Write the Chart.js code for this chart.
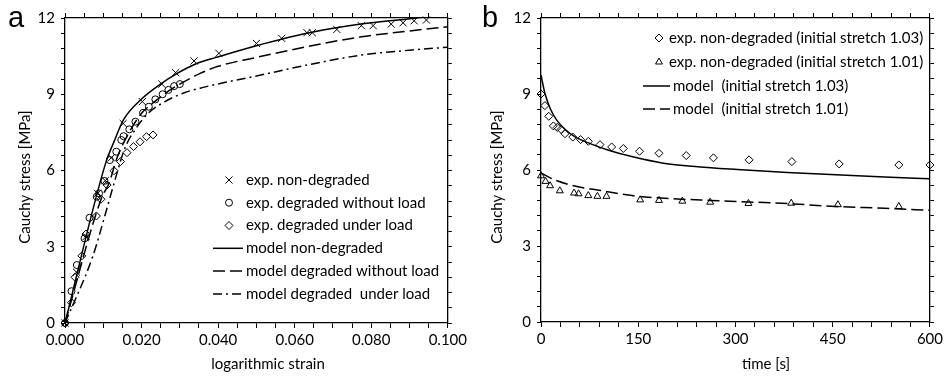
<!DOCTYPE html>
<html><head><meta charset="utf-8">
<script src="https://cdn.jsdelivr.net/npm/chart.js@4.4.1/dist/chart.umd.min.js"></script>
<style>
html,body{margin:0;padding:0;background:#fff;}
#wrap{position:relative;width:946px;height:376px;overflow:hidden;background:#fff;}
canvas{position:absolute;top:0;}
</style></head><body>
<div id="wrap">
<canvas id="ca" width="470" height="376" style="left:0"></canvas>
<canvas id="cb" width="471" height="376" style="left:475px"></canvas>
</div>
<script>
// ---------- panel a data ----------
const expNonDegStrain = [0,0.003,0.0055,0.0085,0.0105,0.0121,0.0152,0.0202,0.0253,0.0289,0.0337,0.0402,0.050,0.0566,0.0632,0.0646,0.071,0.0774,0.0805,0.0852,0.0883,0.0912,0.0944];
const expNonDegStress = [0,2.0,3.4,5.1,5.6,6.5,7.85,8.71,9.40,9.85,10.31,10.61,11.0,11.2,11.42,11.42,11.55,11.7,11.7,11.76,11.81,11.89,11.92];
const expDegNoLoadStrain = [0,0.0017,0.0031,0.0051,0.0064,0.0083,0.0089,0.0103,0.0117,0.0134,0.0147,0.0153,0.0168,0.0184,0.0204,0.0219,0.0236,0.0255,0.027,0.0285,0.030];
const expDegNoLoadStress = [0,1.25,2.28,3.33,4.14,4.97,5.1,5.59,6.41,6.74,7.2,7.35,7.62,7.92,8.27,8.51,8.8,9.0,9.17,9.32,9.40];
const expDegLoadStrain = [0,0.0017,0.0026,0.0044,0.0055,0.0082,0.0094,0.011,0.0128,0.0145,0.0162,0.0179,0.0196,0.0213,0.023];
const expDegLoadStress = [0,0.8,1.8,2.64,3.5,4.21,4.87,5.43,5.99,6.35,6.70,6.94,7.13,7.33,7.40];
const modNonDegStrain = [0,0.0106,0.0128,0.0153,0.0202,0.0242,0.0293,0.0344,0.0395,0.05,0.0632,0.0773,0.0906,0.1];
const modNonDegStress = [0,6.28,7.13,8.0,8.84,9.32,9.82,10.21,10.45,10.91,11.4,11.76,11.98,12.15];
const modDegNoLoadStrain = [0,0.0095,0.0115,0.0136,0.0166,0.02,0.0234,0.0268,0.03,0.0353,0.04,0.05,0.0632,0.0774,0.0906,0.1];
const modDegNoLoadStress = [0,4.9,5.5,6.5,7.46,8.25,8.71,9.1,9.40,9.82,10.1,10.45,10.87,11.26,11.5,11.66];
const modDegLoadStrain = [0,0.0072,0.0106,0.0132,0.0157,0.0183,0.0217,0.026,0.031,0.0361,0.0429,0.05,0.0632,0.0774,0.0906,0.1];
const modDegLoadStress = [0,2.6,4.32,5.7,6.9,7.6,8.25,8.7,9.05,9.27,9.5,9.72,10.15,10.54,10.74,10.85];
const labelsA = ['exp. non-degraded','exp. degraded without load','exp. degraded under load','model non-degraded','model degraded without load','model degraded  under load'];

// ---------- panel b data ----------
const exp103Time = [0,6,12,19,25,31,37,49,61,73,91,109,127,152,182,224,266,321,387,460,552,600];
const exp103Stress = [9.0,8.54,8.12,7.74,7.68,7.6,7.43,7.3,7.2,7.13,7.0,6.91,6.85,6.74,6.66,6.57,6.48,6.4,6.33,6.24,6.2,6.2];
const exp101Time = [0,7,14,29,51,58,73,87,101,153,182,218,261,320,386,458,552];
const exp101Stress = [5.77,5.55,5.38,5.18,5.09,5.06,4.99,4.96,4.96,4.82,4.8,4.77,4.73,4.68,4.69,4.63,4.56];
const mod103Time = [0,6,14,24,37,52,72,103,143,189,242,303,380,455,530,600];
const mod103Stress = [9.75,9.03,8.44,7.98,7.61,7.32,7.08,6.79,6.51,6.27,6.13,6.02,5.9,5.81,5.72,5.65];
const mod101Time = [0,21,52,92,143,200,260,320,390,455,530,600];
const mod101Stress = [5.88,5.61,5.37,5.19,4.98,4.87,4.8,4.74,4.66,4.56,4.49,4.41];
const labelsB = ['exp. non-degraded (initial stretch 1.03)','exp. non-degraded (initial stretch 1.01)','model  (initial stretch 1.03)','model  (initial stretch 1.01)'];

const yTicksLabels = [0,3,6,9,12];
const FONT_FAMILY = 'Lato, "Open Sans", sans-serif';
const FS = 15;

function pts(xs, ys){ return xs.map((x,i)=>({x:x, y:ys[i]})); }

function marker(label, xs, ys, style, r){
  return {label, data:pts(xs,ys), showLine:false, pointStyle:style, pointRadius:r, pointHoverRadius:r,
    borderColor:'#000', backgroundColor:'rgba(255,255,255,0)', pointBorderWidth:1, borderWidth:1, clip:false};
}
function curve(label, xs, ys, dash){
  return {label, data:pts(xs,ys), showLine:true, pointRadius:0, borderColor:'#000', borderWidth:1.5,
    borderDash:dash, tension:0.3, cubicInterpolationMode:'monotone', clip:1, backgroundColor:'#000'};
}

const annot = {
  id:'annot',
  afterDraw(chart, args, o){
    const ctx = chart.ctx;
    ctx.save();
    ctx.fillStyle = '#000';
    ctx.font = '29px "Liberation Sans", Arial, sans-serif';
    ctx.textAlign = 'left'; ctx.textBaseline = 'alphabetic';
    ctx.fillText(o.letter, o.letterX, o.letterY);
    ctx.font = FS + 'px ' + FONT_FAMILY;
    ctx.textAlign = 'center'; ctx.textBaseline = 'middle';
    ctx.fillText(o.xTitle, o.xTitleX, o.xTitleY);
    ctx.save();
    ctx.translate(o.yTitleX, o.yTitleY); ctx.rotate(-Math.PI/2);
    ctx.fillText(o.yTitle, 0, 0);
    ctx.restore();
    // legend
    const L = o.legend;
    ctx.textAlign = 'left';
    chart.data.datasets.forEach((ds, i) => {
      const y = L.rows[i];
      ctx.strokeStyle = '#000'; ctx.fillStyle = '#000';
      if (ds.showLine) {
        ctx.save();
        ctx.lineWidth = ds.borderWidth;
        ctx.setLineDash(ds.borderDash || []);
        ctx.beginPath(); ctx.moveTo(L.lineX1, y); ctx.lineTo(L.lineX2, y); ctx.stroke();
        ctx.restore();
      } else {
        ctx.save();
        ctx.lineWidth = 1; ctx.fillStyle = 'rgba(255,255,255,0)';
        Chart.helpers.drawPoint(ctx, {pointStyle: ds.pointStyle, radius: ds.pointRadius, borderWidth: 1, rotation: 0}, L.markerX, y);
        ctx.restore();
      }
      ctx.fillStyle = '#000';
      ctx.fillText(ds.label, ds.showLine ? L.textX2 : L.textX, y);
    });
    ctx.restore();
  }
};

function axisCommon(){
  return {
    type:'linear',
    grid:{drawOnChartArea:false, drawTicks:true, tickLength:5, tickColor:'#000', tickWidth:1},
    border:{display:true, color:'#000', width:1.3},
  };
}

function makeChart(id, datasets, cfg){
  const W = cfg.W, H = 376;
  const x = Object.assign(axisCommon(), {
    position:'bottom', min:cfg.xmin, max:cfg.xmax,
    ticks:{stepSize:cfg.xstep, autoSkip:false, maxRotation:0, color:'#000', padding:3,
      font:{family:FONT_FAMILY, size:FS}, callback:cfg.xcb},
    afterFit:(s)=>{ s.height = H - cfg.bottom; }
  });
  const x2 = Object.assign(axisCommon(), {
    position:'top', min:cfg.xmin, max:cfg.xmax,
    ticks:{stepSize:cfg.xstep, autoSkip:false, display:false},
    afterFit:(s)=>{ s.height = cfg.top; }
  });
  const y = Object.assign(axisCommon(), {
    position:'left', min:0, max:12,
    ticks:{stepSize:0.6, autoSkip:false, color:'#000', padding:6, font:{family:FONT_FAMILY, size:FS},
      callback:(v)=>{ const r = Math.round(v*1000); return yTicksLabels.some(t=>t*1000===r) ? String(Math.round(v)) : ''; }},
    afterFit:(s)=>{ s.width = cfg.left; }
  });
  y.grid = Object.assign({}, y.grid, {tickLength:4});
  const y2 = Object.assign(axisCommon(), {
    position:'right', min:0, max:12,
    ticks:{stepSize:0.6, autoSkip:false, display:false},
    afterFit:(s)=>{ s.width = W - cfg.right; }
  });
  y2.grid = Object.assign({}, y2.grid, {tickLength:4});
  return new Chart(document.getElementById(id), {
    type:'scatter',
    data:{datasets},
    options:{
      responsive:false, animation:false, devicePixelRatio:1,
      layout:{padding:0},
      plugins:{legend:{display:false}, tooltip:{enabled:false}, annot:cfg.annot},
      scales:{x, x2, y, y2}
    },
    plugins:[annot]
  });
}

makeChart('ca', [
  marker(labelsA[0], expNonDegStrain, expNonDegStress, 'crossRot', 5),
  marker(labelsA[1], expDegNoLoadStrain, expDegNoLoadStress, 'circle', 3.5),
  marker(labelsA[2], expDegLoadStrain, expDegLoadStress, 'rectRot', 4),
  curve(labelsA[3], modNonDegStrain, modNonDegStress, []),
  curve(labelsA[4], modDegNoLoadStrain, modDegNoLoadStress, [12,5]),
  curve(labelsA[5], modDegLoadStrain, modDegLoadStress, [9,4,2,4]),
], {
  W:470, left:65, right:457, top:18, bottom:323,
  xmin:0, xmax:0.1, xstep:0.005,
  xcb:(v)=>{ const r = Math.round(v*1000); return r % 20 === 0 ? v.toFixed(3) : ''; },
  annot:{letter:'a', letterX:8, letterY:27, xTitle:'logarithmic strain', xTitleX:268, xTitleY:364,
    yTitle:'Cauchy stress [MPa]', yTitleX:25, yTitleY:177,
    legend:{markerX:229, lineX1:213, lineX2:243, textX:246, textX2:246, rows:[180,202.7,225.5,248.3,271,294]}}
});

makeChart('cb', [
  marker(labelsB[0], exp103Time, exp103Stress, 'rectRot', 4),
  marker(labelsB[1], exp101Time, exp101Stress, 'triangle', 4),
  curve(labelsB[2], mod103Time, mod103Stress, []),
  curve(labelsB[3], mod101Time, mod101Stress, [12,5]),
], {
  W:471, left:66, right:460, top:18, bottom:322,
  xmin:0, xmax:600, xstep:30,
  xcb:(v)=>{ return Math.round(v) % 150 === 0 ? String(Math.round(v)) : ''; },
  annot:{letter:'b', letterX:7, letterY:27, xTitle:'time [s]', xTitleX:291, xTitleY:364,
    yTitle:'Cauchy stress [MPa]', yTitleX:22, yTitleY:177,
    legend:{markerX:184, lineX1:168, lineX2:195, textX:194, textX2:198, rows:[38,62,86,109]}}
});
</script>
</body></html>
